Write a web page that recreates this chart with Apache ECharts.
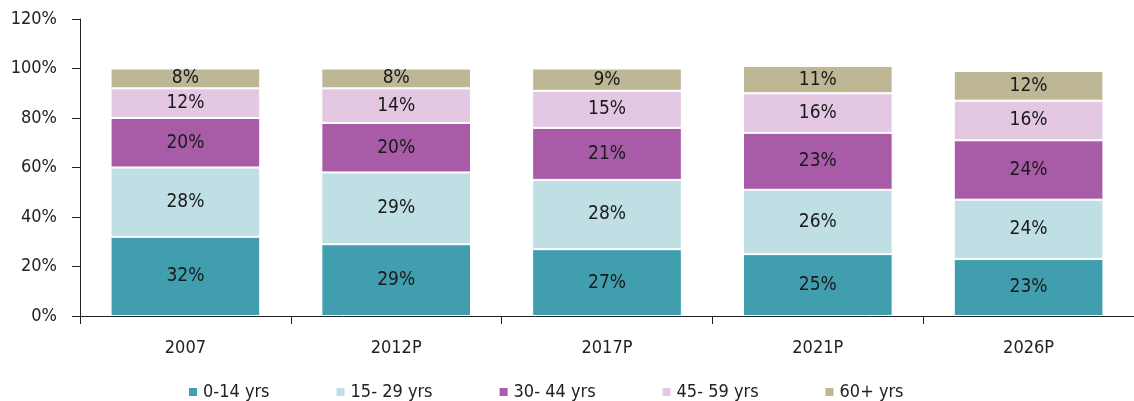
<!DOCTYPE html>
<html>
<head>
<meta charset="utf-8">
<script src="https://cdn.jsdelivr.net/npm/echarts@6/dist/echarts.min.js"></script>
<style>
  html, body { margin: 0; padding: 0; background: #fff; }
  #chart { width: 1134px; height: 401px; }
</style>
</head>
<body>
<div id="chart"></div>
<script>
// 年份（类目）
const years = ['2007', '2012P', '2017P', '2021P', '2026P'];

// 各年龄段占比 (%)
const age0to14 = [32, 29, 27, 25, 23];
const age15to29 = [28, 29, 28, 26, 24];
const age30to44 = [20, 20, 21, 23, 24];
const age45to59 = [12, 14, 15, 16, 16];
const age60plus = [8, 8, 9, 11, 12];

const seriesNames = ['0-14 yrs', '15- 29 yrs', '30- 44 yrs', '45- 59 yrs', '60+ yrs'];
const seriesData = [age0to14, age15to29, age30to44, age45to59, age60plus];
const colors = ['#409EAF', '#BFDFE4', '#A85CA8', '#E4C8E3', '#BDB796'];

const fontFamily = '"Liberation Sans Narrow", "DejaVu Sans Condensed", "Roboto", sans-serif';

const chart = echarts.init(document.getElementById('chart'));

const option = {
    animation: false,
    textStyle: { fontFamily: fontFamily },
    grid: { left: 80, right: 0, top: 19, bottom: 85 },
    legend: {
        left: 182,
        top: 378,
        itemWidth: 10,
        itemHeight: 10,
        itemGap: 65,
        icon: 'rect',
        textStyle: { fontSize: 18, color: '#222', fontFamily: fontFamily },
        data: seriesNames
    },
    xAxis: {
        type: 'category',
        data: years,
        axisLine: { lineStyle: { color: '#222', width: 1 } },
        axisTick: { show: true, length: 8, lineStyle: { color: '#222' } },
        axisLabel: { fontSize: 18, color: '#222', margin: 23, fontFamily: fontFamily }
    },
    yAxis: {
        type: 'value',
        min: 0,
        max: 120,
        interval: 20,
        axisLine: { show: true, lineStyle: { color: '#222', width: 1 } },
        axisTick: { show: true, length: 8, lineStyle: { color: '#222' } },
        splitLine: { show: false },
        axisLabel: { formatter: '{value}%', fontSize: 18, color: '#222', margin: 23, fontFamily: fontFamily }
    },
    series: seriesNames.map((name, i) => ({
        name: name,
        type: 'bar',
        stack: 'total',
        barWidth: '71%',
        data: seriesData[i],
        itemStyle: { color: colors[i], borderColor: '#fff', borderWidth: 1 },
        label: {
            show: true,
            position: 'inside',
            formatter: '{c}%',
            fontSize: 19,
            color: '#1a1a1a',
            fontFamily: fontFamily
        }
    }))
};

chart.setOption(option);
</script>
</body>
</html>
